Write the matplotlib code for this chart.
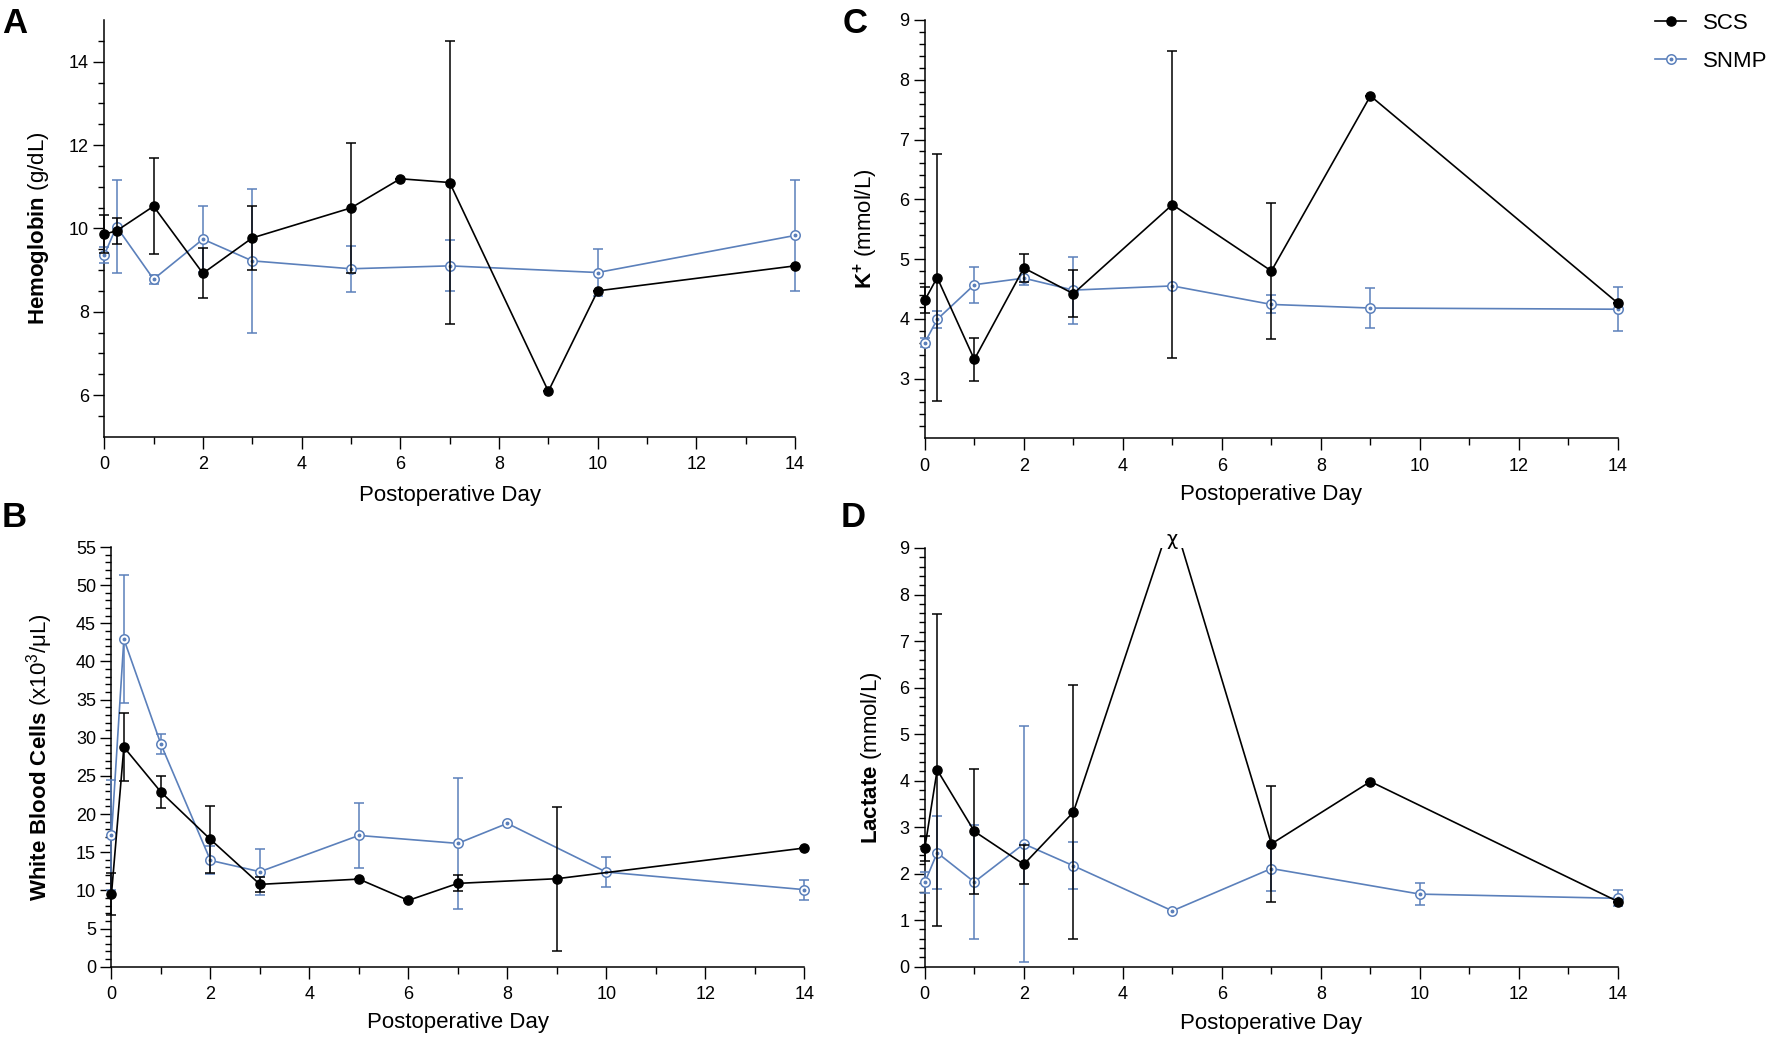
import numpy as np
import matplotlib
matplotlib.use('Agg')
import matplotlib.pyplot as plt
from matplotlib.ticker import FixedLocator
from matplotlib.patches import Rectangle
from matplotlib.legend_handler import HandlerTuple

plt.rcParams['font.family'] = ['Liberation Sans', 'DejaVu Sans']
plt.rcParams['mathtext.fontset'] = 'custom'
plt.rcParams['mathtext.rm'] = 'Liberation Sans'
plt.rcParams['mathtext.bf'] = 'Liberation Sans:bold'
plt.rcParams['mathtext.it'] = 'Liberation Sans:italic'

# ---------------- data ----------------
series_names = ['SCS', 'SNMP']
x_ticks = [0, 2, 4, 6, 8, 10, 12, 14]
x_label = 'Postoperative Day'

# A: Hemoglobin
hb_scs_day = [0, 0.25, 1, 2, 3, 5, 6, 7, 9, 10, 14]
hb_scs_mean = [9.86, 9.94, 10.53, 8.92, 9.77, 10.49, 11.19, 11.10, 6.09, 8.50, 9.10]
hb_scs_sd = [0.45, 0.31, 1.15, 0.60, 0.77, 1.56, 0, 3.39, 0, 0, 0]
hb_snmp_day = [0, 0.25, 1, 2, 3, 5, 7, 10, 14]
hb_snmp_mean = [9.36, 10.04, 8.78, 9.74, 9.22, 9.03, 9.10, 8.94, 9.83]
hb_snmp_sd = [0.20, 1.11, 0.11, 0.79, 1.73, 0.55, 0.61, 0.56, 1.33]

# B: White blood cells
wbc_scs_day = [0, 0.25, 1, 2, 3, 5, 6, 7, 9, 14]
wbc_scs_mean = [9.56, 28.78, 22.88, 16.68, 10.79, 11.48, 8.69, 10.92, 11.53, 15.55]
wbc_scs_sd = [2.72, 4.50, 2.10, 4.42, 0.95, 0, 0, 1.05, 9.44, 0]
wbc_snmp_day = [0, 0.25, 1, 2, 3, 5, 7, 8, 10, 14]
wbc_snmp_mean = [17.25, 42.93, 29.13, 13.93, 12.45, 17.20, 16.16, 18.78, 12.40, 10.10]
wbc_snmp_sd = [7.20, 8.35, 1.30, 1.83, 3.03, 4.22, 8.62, 0, 1.96, 1.30]

# C: Potassium
k_scs_day = [0, 0.25, 1, 2, 3, 5, 7, 9, 14]
k_scs_mean = [4.31, 4.69, 3.32, 4.85, 4.42, 5.91, 4.80, 7.73, 4.26]
k_scs_sd = [0.22, 2.06, 0.36, 0.23, 0.39, 2.57, 1.14, 0, 0]
k_snmp_day = [0, 0.25, 1, 2, 3, 5, 7, 9, 14]
k_snmp_mean = [3.60, 3.99, 4.57, 4.68, 4.48, 4.55, 4.24, 4.18, 4.16]
k_snmp_sd = [0.08, 0.145, 0.30, 0.12, 0.56, 0, 0.15, 0.33, 0.37]

# D: Lactate (SCS day 5 is off scale, marked with chi)
lac_scs_day = [0, 0.25, 1, 2, 3, 5, 7, 9, 14]
lac_scs_mean = [2.55, 4.23, 2.91, 2.20, 3.32, 9.70, 2.64, 3.98, 1.40]
lac_scs_sd = [0.27, 3.35, 1.35, 0.42, 2.73, 0, 1.25, 0, 0]
lac_snmp_day = [0, 0.25, 1, 2, 3, 5, 7, 10, 14]
lac_snmp_mean = [1.81, 2.45, 1.82, 2.64, 2.17, 1.20, 2.11, 1.56, 1.47]
lac_snmp_sd = [0.23, 0.78, 1.23, 2.53, 0.50, 0, 0.48, 0.23, 0.17]
offscale_day = 5
offscale_mark = 'χ'

panel_letters = ['A', 'B', 'C', 'D']
y_labels = [r'$\mathbf{Hemoglobin}$ (g/dL)',
            r'$\mathbf{White\ Blood\ Cells}$ (x10$^{3}$/μL)',
            r'$\mathbf{K^{+}}$ (mmol/L)',
            r'$\mathbf{Lactate}$ (mmol/L)']

# ---------------- style ----------------
BLACK = '#000000'
BLUE = '#5b80bb'
W, H = 1772, 1040

fig = plt.figure(figsize=(W / 100, H / 100), dpi=100)


def add_ax(l, r, t, b):
    return fig.add_axes([l / W, 1 - b / H, (r - l) / W, (b - t) / H])


def style(ax, ylim, ymaj, ymin):
    ax.set_xlim(0, 14)
    ax.set_ylim(*ylim)
    for s in ['top', 'right']:
        ax.spines[s].set_visible(False)
    for s in ['left', 'bottom']:
        ax.spines[s].set_linewidth(1.1)
    ax.xaxis.set_major_locator(FixedLocator(x_ticks))
    ax.xaxis.set_minor_locator(FixedLocator(np.arange(1, 14, 2)))
    ax.yaxis.set_major_locator(FixedLocator(ymaj))
    ax.yaxis.set_minor_locator(FixedLocator(ymin))
    ax.tick_params(axis='x', which='major', length=8.4, width=1.0, pad=5.5, labelsize=13)
    ax.tick_params(axis='x', which='minor', length=4.8, width=1.0)
    ax.tick_params(axis='y', which='major', length=7.9, width=1.0, pad=3.2, labelsize=13)
    ax.tick_params(axis='y', which='minor', length=4.3, width=1.0)
    ax.patch.set_visible(False)


def draw(ax, sd_, sm_, ss_, nd_, nm_, ns_):
    clip = Rectangle((-0.05, -0.1), 1.1, 1.1, transform=ax.transAxes,
                     facecolor='none', edgecolor='none')
    ax.add_patch(clip)
    cont_n = ax.errorbar(nd_, nm_, yerr=ns_, color=BLUE, lw=1.2, elinewidth=1.1,
                         capsize=3.4, capthick=1.1, marker='o', ms=6.8, mfc='white',
                         mec=BLUE, mew=1.1, zorder=3)
    dot_n, = ax.plot(nd_, nm_, ls='none', marker='o', ms=1.8, color=BLUE, zorder=3.1)
    cont_s = ax.errorbar(sd_, sm_, yerr=ss_, color=BLACK, lw=1.2, elinewidth=1.1,
                         capsize=3.4, capthick=1.1, marker='o', ms=6.6, mfc=BLACK,
                         mec=BLACK, zorder=4)
    for c in (cont_n, cont_s):
        for ch in c.get_children():
            ch.set_clip_path(clip)
    dot_n.set_clip_path(clip)
    return cont_s.lines[0], cont_n.lines[0], dot_n


axA = add_ax(104.2, 795.1, 20, 436.7)
axB = add_ax(111.5, 804.2, 547, 966.7)
axC = add_ax(924.8, 1618, 20, 438.3)
axD = add_ax(924.8, 1618, 548, 966.7)

style(axA, (5, 15), [6, 8, 10, 12, 14], np.arange(5.5, 14.6, 0.5))
style(axB, (0, 55), np.arange(0, 56, 5), np.arange(1, 55, 1))
style(axC, (2, 9), np.arange(3, 10, 1), np.arange(2.2, 9.0, 0.2))
style(axD, (0, 9), np.arange(0, 10, 1), np.arange(0.2, 9.0, 0.2))

hs, hn, hd = draw(axA, hb_scs_day, hb_scs_mean, hb_scs_sd, hb_snmp_day, hb_snmp_mean, hb_snmp_sd)
draw(axB, wbc_scs_day, wbc_scs_mean, wbc_scs_sd, wbc_snmp_day, wbc_snmp_mean, wbc_snmp_sd)
draw(axC, k_scs_day, k_scs_mean, k_scs_sd, k_snmp_day, k_snmp_mean, k_snmp_sd)
draw(axD, lac_scs_day, lac_scs_mean, lac_scs_sd, lac_snmp_day, lac_snmp_mean, lac_snmp_sd)

axD.text(offscale_day, 9.18, offscale_mark, ha='center', va='center', fontsize=14,
         family=['DejaVu Sans'], clip_on=False)

ylab_x = [-0.0944, -0.1032, -0.0848, -0.0776]
xlab_y = [-0.140, -0.134, -0.1355, -0.1345]
for ax, lab, lx, ly in zip([axA, axB, axC, axD], y_labels, ylab_x, xlab_y):
    ax.set_ylabel(lab, fontsize=16)
    ax.yaxis.label.set_va('center')
    ax.yaxis.set_label_coords(lx, 0.5)
    ax.set_xlabel(x_label, fontsize=16)
    ax.xaxis.label.set_va('center')
    ax.xaxis.set_label_coords(0.5, ly)

letter_pos = [(2 / W, 1 - 33.3 / H), (2 / W, 1 - 527 / H),
              (843 / W, 1 - 33.3 / H), (841 / W, 1 - 526.7 / H)]
for letter, (lx, ly) in zip(panel_letters, letter_pos):
    fig.text(lx, ly, letter, fontsize=25, fontweight='bold', ha='left', va='baseline')

fig.legend([hs, (hn, hd)], series_names, handler_map={tuple: HandlerTuple(ndivide=1, pad=0)},
           loc='upper left', bbox_to_anchor=(1655 / W, 1 - 13 / H), frameon=False,
           fontsize=16, handlelength=1.4, handletextpad=0.75, labelspacing=0.75,
           borderpad=0, borderaxespad=0)

fig.savefig('out.png', dpi=100)
